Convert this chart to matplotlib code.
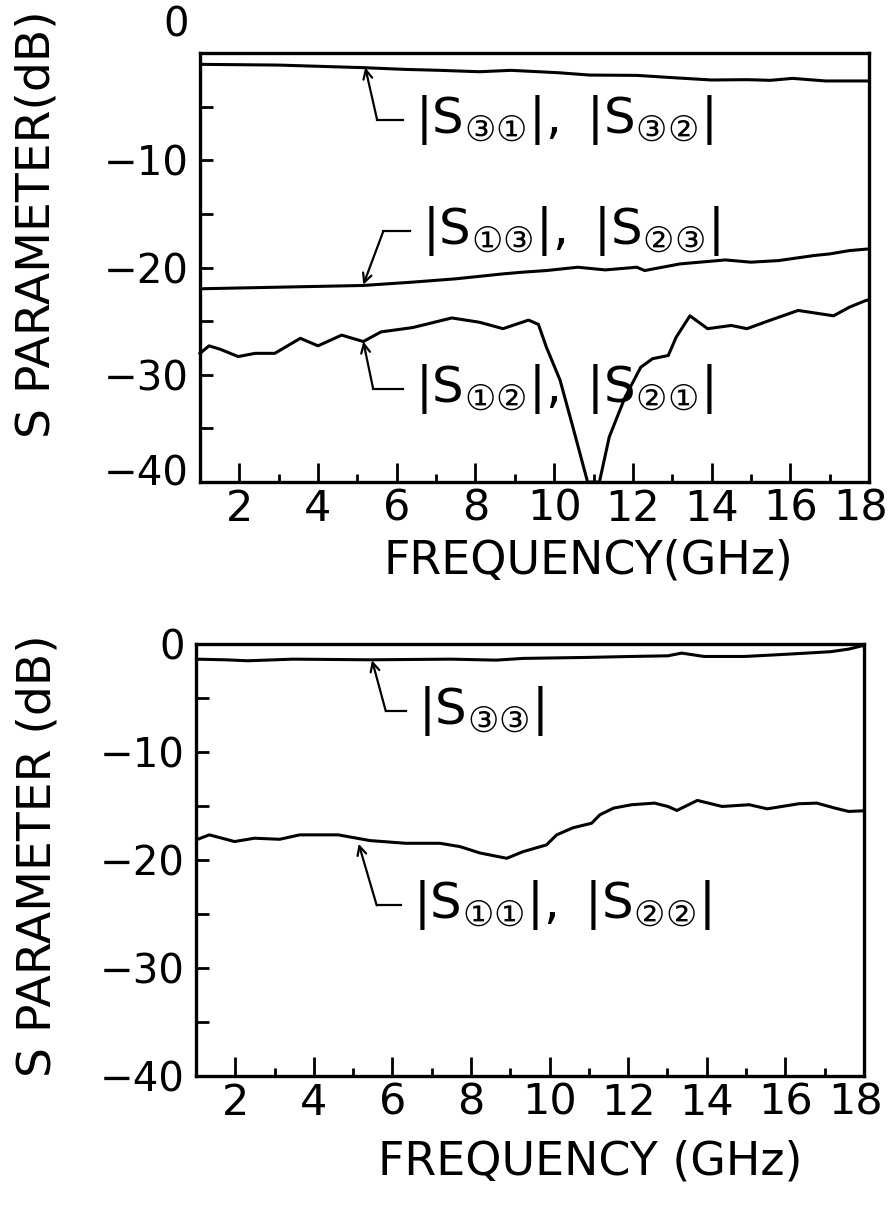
import matplotlib
matplotlib.use('Agg')
import matplotlib.pyplot as plt
from matplotlib.transforms import ScaledTranslation

plt.rcParams['font.family'] = ['DejaVu Sans']
plt.rcParams['mathtext.fontset'] = 'dejavusans'

# ---- upper panel: transmission / isolation (dB) ----
f_s31 = [1, 3, 5.15, 6.2, 7.1, 8.1, 8.9, 10.1, 10.9, 12.1, 13, 14, 14.9, 15.5, 16.06, 16.9, 17.4, 18]
s31 = [-1.05, -1.12, -1.36, -1.52, -1.61, -1.74, -1.61, -1.83, -2.05, -2.08, -2.29, -2.51,
       -2.48, -2.54, -2.36, -2.60, -2.60, -2.60]

f_s13 = [1, 5.15, 6.4, 7.5, 8.7, 9.2, 9.8, 10.6, 11.3, 12.1, 12.3, 13.2, 14.35, 15.0, 15.7,
         16.6, 17.0, 17.5, 18]
s13 = [-21.98, -21.67, -21.36, -21.05, -20.59, -20.43, -20.28, -19.97, -20.22, -19.97, -20.28,
       -19.66, -19.29, -19.50, -19.35, -18.88, -18.73, -18.42, -18.26]

f_s12 = [1, 1.23, 1.5, 1.97, 2.4, 2.9, 3.55, 4.0, 4.6, 5.15, 5.6, 6.4, 7.4, 8.1, 8.7, 9.35, 9.6,
         9.8, 10.15, 10.5, 10.85, 11.15, 11.4, 11.8, 12.2, 12.5, 12.9, 13.1, 13.45, 13.9, 14.5,
         14.9, 15.5, 16.2, 17.1, 17.5, 17.9, 18]
s12 = [-28.0, -27.3, -27.6, -28.3, -28.0, -28.0, -26.6, -27.3, -26.3, -26.9, -26.0, -25.6,
       -24.7, -25.1, -25.7, -24.9, -25.3, -27.4, -30.5, -35.2, -40.0, -40.0, -35.8, -32.1,
       -29.3, -28.5, -28.2, -26.5, -24.5, -25.7, -25.4, -25.7, -24.9, -24.0, -24.5, -23.7,
       -23.1, -23.0]

# ---- lower panel: reflection (dB) ----
f_s33 = [1, 1.75, 2.32, 3.47, 5.43, 7.49, 8.64, 9.33, 10.94, 12.09, 13.01, 13.36, 13.93,
         14.97, 16.11, 17.15, 17.61, 18]
s33 = [-1.40, -1.46, -1.55, -1.40, -1.46, -1.40, -1.49, -1.33, -1.24, -1.15, -1.09, -0.84,
       -1.15, -1.15, -0.93, -0.71, -0.47, -0.12]

f_s11 = [1.0, 1.34, 1.98, 2.49, 3.13, 3.64, 4.62, 5.43, 6.34, 7.21, 7.72, 8.23, 8.91, 9.32,
         9.92, 10.18, 10.59, 11.07, 11.28, 11.63, 12.09, 12.67, 13.01, 13.24, 13.76, 14.39,
         15.08, 15.54, 16.34, 16.8, 17.26, 17.61, 18.0]
s11 = [-18.14, -17.67, -18.29, -17.98, -18.08, -17.67, -17.67, -18.2, -18.45, -18.45, -18.76,
       -19.35, -19.84, -19.23, -18.6, -17.67, -17.02, -16.59, -15.81, -15.19, -14.88, -14.73,
       -15.04, -15.41, -14.48, -15.04, -14.88, -15.26, -14.79, -14.73, -15.19, -15.5, -15.44]

# curve labels: (curve point, bend point, end of leader, text)
labels_top = [
    ((5.2, -1.35), (5.5, -6.2), (6.17, -6.2), r'$\mathregular{|S_{③①}|,\ |S_{③②}|}$'),
    ((5.15, -21.6), (5.66, -16.6), (6.34, -16.6), r'$\mathregular{|S_{①③}|,\ |S_{②③}|}$'),
    ((5.15, -26.9), (5.4, -31.3), (6.17, -31.3), r'$\mathregular{|S_{①②}|,\ |S_{②①}|}$'),
]
labels_bot = [
    ((5.48, -1.5), (5.83, -6.2), (6.34, -6.2), r'$\mathregular{|S_{③③}|}$'),
    ((5.14, -18.5), (5.6, -24.2), (6.23, -24.2), r'$\mathregular{|S_{①①}|,\ |S_{②②}|}$'),
]

ytick_vals = [0, -10, -20, -30, -40]
ytick_text = ['0', '\u221210', '\u221220', '\u221230', '\u221240']
xtick_vals = [2, 4, 6, 8, 10, 12, 14, 16, 18]
xminor_vals = [3, 5, 7, 9, 11, 13, 15, 17]
yminor_vals = [-5, -15, -25, -35]

fig = plt.figure(figsize=(8.94, 12.09), dpi=100)
ax1 = fig.add_axes([0.2237, 0.6013, 0.7483, 0.3548])
ax2 = fig.add_axes([0.2192, 0.1100, 0.7472, 0.3573])


def shift(label, dx, dy):
    # nudge a tick label by dx, dy pixels
    label.set_transform(label.get_transform() +
                        ScaledTranslation(dx / 100, dy / 100, fig.dpi_scale_trans))


def style(ax, xlabel, ylabel, xl, yl):
    ax.set_xlim(1, 18)
    ax.set_ylim(-40, 0)
    for s in ax.spines.values():
        s.set_linewidth(2.4)
    ax.set_xticks(xtick_vals)
    ax.set_xticklabels([str(v) for v in xtick_vals])
    ax.set_xticks(xminor_vals, minor=True)
    ax.set_yticks(ytick_vals)
    ax.set_yticklabels(ytick_text)
    ax.set_yticks(yminor_vals, minor=True)
    ax.tick_params(axis='x', which='major', direction='in', length=13.5, width=2,
                   labelsize=31, pad=4, top=False)
    ax.tick_params(axis='x', which='minor', direction='in', length=6, width=2, top=False)
    ax.tick_params(axis='y', which='both', direction='in', length=9, width=2,
                   labelsize=29, pad=8, right=False)
    ax.set_xlabel(xlabel, fontsize=33, va='center')
    ax.xaxis.set_label_coords(*xl)
    ax.set_ylabel(ylabel, fontsize=34, va='center', ha='center')
    ax.yaxis.set_label_coords(*yl)
    shift(ax.xaxis.get_major_ticks()[-1].label1, -8, 0)


def put_labels(ax, items):
    for pt, bend, end, txt in items:
        ax.annotate('', xy=pt, xytext=bend,
                    arrowprops=dict(arrowstyle='->', lw=1.6, color='black',
                                    mutation_scale=16, shrinkA=0, shrinkB=0))
        ax.plot([bend[0], end[0]], [bend[1], end[1]], color='black', lw=1.6)
        ax.text(end[0] + 0.3, end[1], txt, fontsize=36, ha='left', va='center')


ax1.plot(f_s31, s31, color='black', lw=2.2)
ax1.plot(f_s13, s13, color='black', lw=2.2)
ax1.plot(f_s12, s12, color='black', lw=2.2, clip_on=False)
put_labels(ax1, labels_top)
style(ax1, 'FREQUENCY(GHz)', 'S PARAMETER(dB)', (0.58, -0.184), (-0.244, 0.60))

ax2.plot(f_s33, s33, color='black', lw=2.2)
ax2.plot(f_s11, s11, color='black', lw=2.2)
put_labels(ax2, labels_bot)
style(ax2, 'FREQUENCY (GHz)', 'S PARAMETER (dB)', (0.59, -0.199), (-0.237, 0.51))

# the upper panel's "0" and "-40" sit above their ticks
for t, dy in zip(ax1.yaxis.get_major_ticks(), [32, 0, 0, 0, 12]):
    shift(t.label1, 0, dy)

fig.savefig('out.png', dpi=100)
